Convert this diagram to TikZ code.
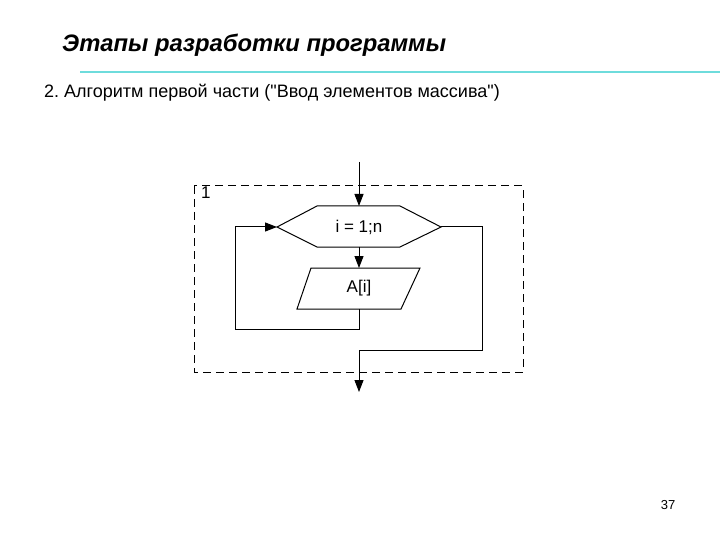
\documentclass[tikz,border=0pt]{standalone}
\usepackage{fontspec}
\setmainfont{Liberation Sans}
\newfontfamily\plainsans{Liberation Sans}
\usetikzlibrary{arrows.meta}
\begin{document}
\frenchspacing
\begin{tikzpicture}[x=1pt,y=-1pt,
  line/.style={line width=1pt,black},
  arr/.style={line,-{Triangle[length=12pt,width=9pt]}},
  lbl/.style={inner sep=0pt,font=\fontsize{17}{20}\selectfont}]
\useasboundingbox[fill=white] (0,0) rectangle (720,540);
% header
\node[inner sep=0pt,anchor=west,font=\fontsize{23.8}{28}\selectfont\bfseries\itshape] (title) at (62,45) {Этапы разработки программы};
\draw[line width=2.5pt,color={rgb,255:red,110;green,220;blue,220}] (80,72) -- (720,72);
\node[inner sep=0pt,anchor=west,font=\plainsans\fontsize{18}{21}\selectfont] (sub) at (44,93) {2. Алгоритм первой части ("Ввод элементов массива")};
\node[inner sep=0pt,font=\fontsize{13}{15}\selectfont] (page) at (668,505) {37};
% dashed frame
\draw[line,dashed,dash pattern=on 8pt off 5pt] (194,186) rectangle (523,372);
\node[lbl,anchor=north west] (one) at (201,187) {1};
% coordinates
\coordinate (in) at (359,162);
\coordinate (out) at (359,392);
% hexagon
\draw[line] (277,227) -- (317,206) -- (400,206) -- (441,227) -- (400,247) -- (317,247) -- cycle;
\coordinate (hexT) at (359,206);
\coordinate (hexB) at (359,247);
\coordinate (hexL) at (277,227);
\coordinate (hexR) at (441,227);
\node[lbl] (hex) at (359,227) {i = 1;n};
% parallelogram
\draw[line] (311,268) -- (420,268) -- (401,309) -- (297,309) -- cycle;
\coordinate (parT) at (359,268);
\coordinate (parB) at (359,309);
\node[lbl] (par) at (359,288.5) {A[i]};
% connectors
\draw[arr] (in) -- (hexT);
\draw[arr] (hexB) -- (parT);
\draw[arr] (parB) -- (359,329) -- (235,329) -- (235,227) -- (hexL);
\draw[arr] (hexR) -- (482,227) -- (482,350) -- (359,350) -- (out);
\end{tikzpicture}
\end{document}
